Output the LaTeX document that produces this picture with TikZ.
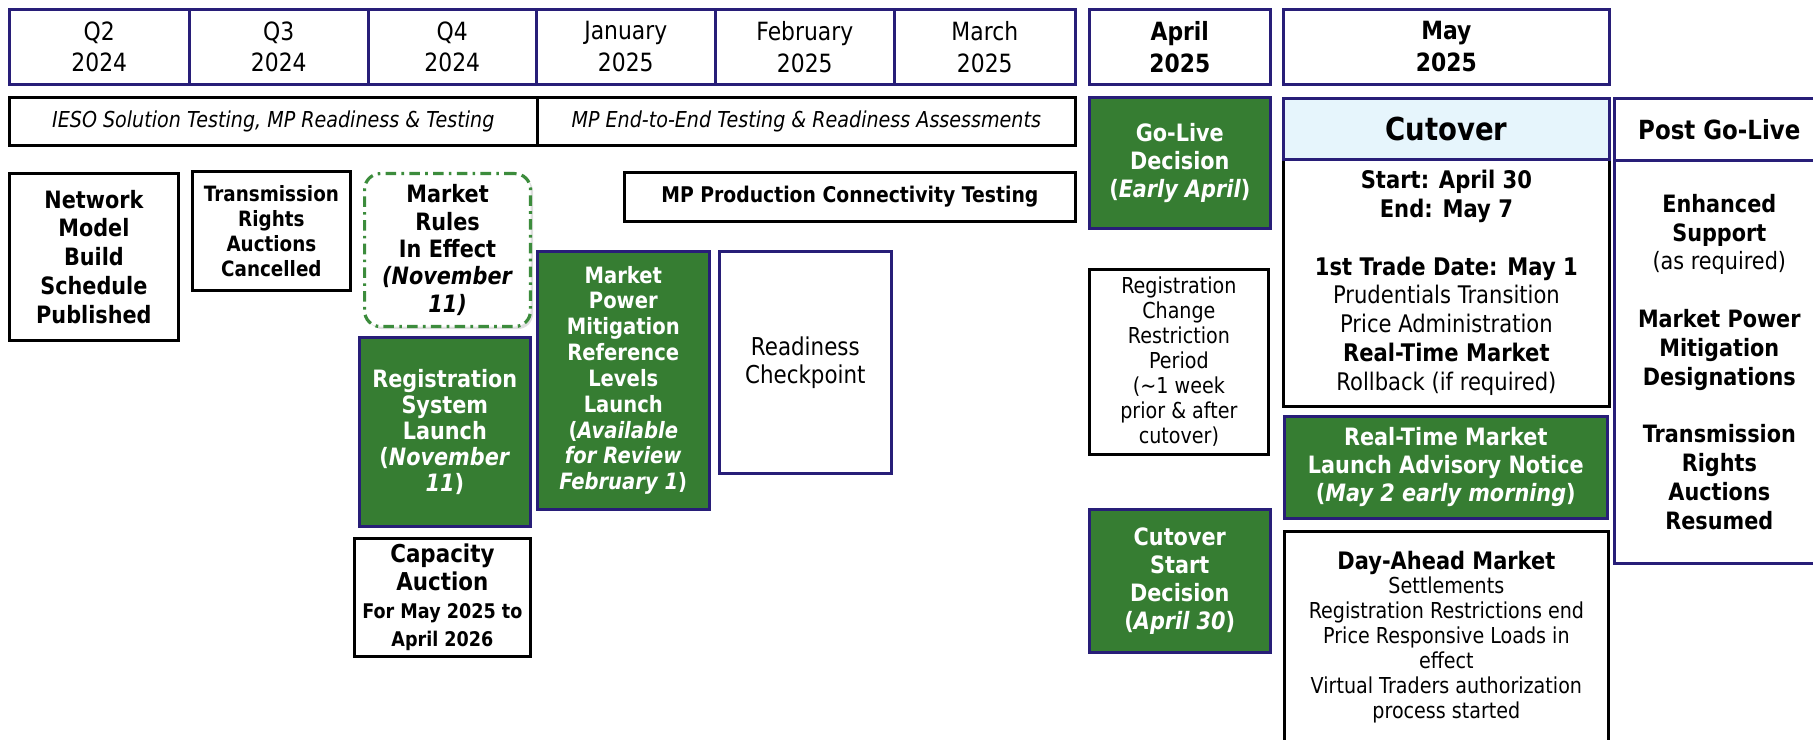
\documentclass[tikz,border=0pt]{standalone}
\usepackage{fontspec}
\setmainfont{DejaVu Sans}[FakeStretch=0.87]
\usetikzlibrary{shadows}
\definecolor{iesonavy}{RGB}{40,30,120}
\definecolor{iesogreen}{RGB}{54,125,50}
\definecolor{rulegreen}{RGB}{60,140,60}
\definecolor{cutoverblue}{RGB}{230,245,252}
\newcommand\capsmall{\fontsize{11.5}{13}\selectfont}
\newcommand\damhead{\fontsize{13.7}{15.5}\selectfont\bfseries}

\begin{document}
\begin{tikzpicture}[x=0.02cm, y=-0.02cm,
		every node/.style={anchor=north west, inner sep=0pt, align=center},
		period/.style={draw=iesonavy, line width=1.5pt, minimum height=1.5cm, font=\fontsize{14.3}{18.1}\selectfont},
		golive month/.style={period, font=\fontsize{14.3}{18.1}\selectfont\bfseries},
		phase/.style={draw, line width=1.5pt, minimum height=0.96cm, font=\fontsize{12.5}{15}\selectfont\itshape},
		milestone/.style={draw=iesonavy, fill=iesogreen, line width=1.5pt, text=white, font=\fontsize{13.6}{15.9}\selectfont\bfseries},
		event/.style={draw, line width=1.6pt, font=\fontsize{13.6}{16.4}\selectfont\bfseries},
		info/.style={draw, line width=1.6pt, font=\fontsize{12.5}{14.2}\selectfont},
		frame/.style={draw=iesonavy, line width=1.5pt},
		in effect/.style={draw=rulegreen, fill=white, line width=1.8pt, rounded corners=9pt,
			dash pattern=on 6pt off 3pt on 1.5pt off 3pt,
			drop shadow={opacity=0.25, shadow xshift=1.5pt, shadow yshift=-1.5pt},
			font=\fontsize{13.6}{15.6}\selectfont\bfseries}]
		\clip (0,0) rectangle (1813,740);
		
		\node[period, minimum width=3.6cm] (q2) at (8,8) {Q2\\2024};
		\node[period, minimum width=3.58cm] (q3) at (188,8) {Q3\\2024};
		\node[period, minimum width=3.36cm] (q4) at (367,8) {Q4\\2024};
		\node[period, minimum width=3.58cm] (jan) at (535,8) {January\\2025};
		\node[period, minimum width=3.58cm] (feb) at (714,8) {February\\2025};
		\node[period, minimum width=3.62cm] (mar) at (893,8) {March\\2025};
		\node[golive month, minimum width=3.62cm] (apr) at (1088,8) {April\\2025};
		\node[golive month, minimum width=6.52cm] (may) at (1282,8) {May\\2025};
		
		\node[phase, minimum width=10.56cm] (ieso) at (8,96) {IESO Solution Testing, MP Readiness \& Testing};
		\node[phase, minimum width=10.76cm] (endtoend) at (536,96) {MP End-to-End Testing \& Readiness Assessments};
		
		\node[event, minimum width=3.38cm, minimum height=3.34cm] (network) at (8,172) {Network\\Model\\Build\\Schedule\\Published};
		\node[event, minimum width=3.16cm, minimum height=2.38cm, font=\fontsize{12}{14.2}\selectfont\bfseries] (ftrcancel) at (191,170) {Transmission\\Rights\\Auctions\\Cancelled};
		\node[in effect, minimum width=3.32cm, minimum height=3.06cm] (rules) at (363,172) {Market\\Rules\\In Effect\\\textit{(November}\\\textit{11)}};
		\node[milestone, minimum width=3.42cm, minimum height=3.78cm, font=\fontsize{13.6}{14.8}\selectfont\bfseries] (registration) at (358,336) {Registration\\System\\Launch\\(\textit{November}\\\textit{11})};
		\node[event, minimum width=3.52cm, minimum height=2.36cm, font=\fontsize{14}{15.9}\selectfont\bfseries] (capacity) at (353,537) {Capacity\\Auction\\\capsmall For May 2025 to\\\capsmall April 2026};
		
		\node[milestone, minimum width=3.44cm, minimum height=5.16cm, font=\fontsize{12.8}{14.7}\selectfont\bfseries] (mpm) at (536,250) {Market\\Power\\Mitigation\\Reference\\Levels\\Launch\\(\textit{Available}\\\textit{for Review}\\\textit{February 1})};
		\node[frame, minimum width=3.44cm, minimum height=4.44cm, font=\fontsize{14}{16}\selectfont] (readiness) at (718,250) {Readiness\\Checkpoint};
		\node[event, minimum width=9.02cm, minimum height=0.98cm, font=\fontsize{12.3}{14}\selectfont\bfseries] (connectivity) at (623,171) {MP Production Connectivity Testing};
		
		\node[milestone, minimum width=3.62cm, minimum height=2.62cm] (golive) at (1088,96) {Go-Live\\Decision\\(\textit{Early April})};
		\node[info, minimum width=3.58cm, minimum height=3.7cm] (regchange) at (1088,268) {Registration\\Change\\Restriction\\Period\\(\textasciitilde1 week\\prior \& after\\cutover)};
		\node[milestone, minimum width=3.62cm, minimum height=2.86cm] (cutstart) at (1088,508) {Cutover\\Start\\Decision\\(\textit{April 30})};
		
		\node[draw, line width=1.6pt, minimum width=6.52cm, minimum height=4.94cm, font=\fontsize{13.8}{16.4}\selectfont] (cutbody) at (1282,158) {\textbf{Start: April 30}\\\textbf{End: May 7}\\[16.4pt]\textbf{1st Trade Date: May 1}\\Prudentials Transition\\Price Administration\\\textbf{Real-Time Market}\\Rollback (if required)};
		\node[frame, fill=cutoverblue, minimum width=6.52cm, minimum height=1.22cm, font=\fontsize{18}{20}\selectfont\bfseries] (cutover) at (1282,97) {Cutover};
		\node[milestone, minimum width=6.46cm, minimum height=2.04cm] (rtnotice) at (1283,415) {Real-Time Market\\Launch Advisory Notice\\(\textit{May 2 early morning})};
		\node[info, minimum width=6.48cm, inner ysep=11pt, text depth=3cm] (dam) at (1283,530) {\damhead Day-Ahead Market\\Settlements\\Registration Restrictions end\\Price Responsive Loads in\\effect\\Virtual Traders authorization\\process started};
		
		\node[frame, minimum width=4.2cm, minimum height=8.06cm, font=\fontsize{13.6}{16.4}\selectfont\bfseries] (postbody) at (1613,159) {Enhanced\\Support\\\mdseries (as required)\\[16.4pt]Market Power\\Mitigation\\Designations\\[16.4pt]Transmission\\Rights\\Auctions\\Resumed};
		\node[frame, minimum width=4.2cm, minimum height=1.24cm, font=\fontsize{15}{17}\selectfont\bfseries] (postgolive) at (1613,97) {Post Go-Live};
		
	\end{tikzpicture}
\end{document}
